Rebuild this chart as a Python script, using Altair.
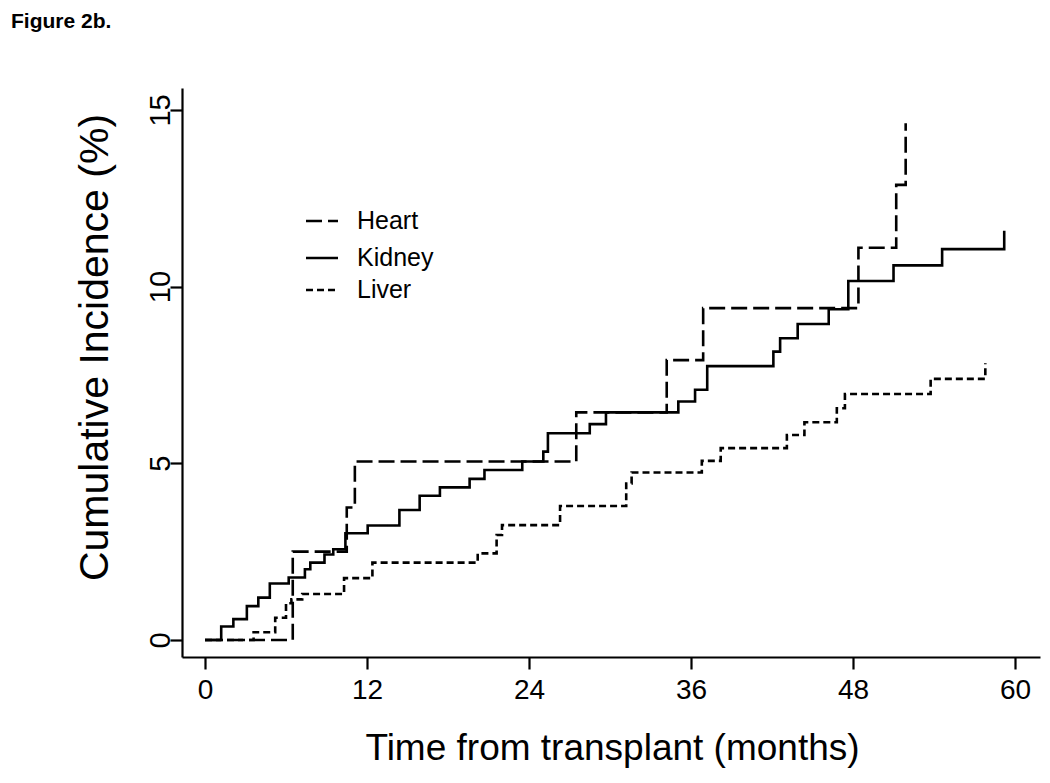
import altair as alt
import pandas as pd

# ---- data (months, cumulative incidence %) ----
heart_t = [0, 6.5, 10.5, 11.1, 27.5, 34.2, 36.9, 48.4, 51.2, 51.9]
heart_p = [0, 2.5, 3.75, 5.05, 6.44, 7.92, 9.39, 11.1, 12.88, 14.62]

kidney_t = [0, 1.2, 2.1, 3.1, 3.95, 4.8, 6.2, 7.4, 7.8, 8.85, 9.5, 10.4, 12.05,
            14.4, 15.9, 17.4, 19.6, 20.7, 23.5, 25.06, 25.4, 28.5, 29.7, 35.06,
            36.3, 37.2, 42.1, 42.6, 43.9, 46.2, 47.65, 51.0, 54.6, 59.2]
kidney_p = [0, 0.38, 0.59, 0.96, 1.2, 1.6, 1.77, 2.0, 2.19, 2.42, 2.57, 3.02, 3.24,
            3.68, 4.08, 4.32, 4.56, 4.81, 5.05, 5.33, 5.85, 6.11, 6.44, 6.75,
            7.08, 7.75, 8.16, 8.54, 8.94, 9.36, 10.16, 10.6, 11.06, 11.58]

liver_t = [0, 3.6, 5.2, 6.0, 6.4, 7.2, 10.3, 12.4, 20.2, 21.6, 22.0, 26.3, 31.2,
           31.6, 36.8, 38.2, 43.1, 44.4, 46.8, 47.4, 53.75, 57.8]
liver_p = [0, 0.22, 0.63, 1.04, 1.15, 1.3, 1.75, 2.19, 2.45, 2.97, 3.25, 3.79, 4.43,
           4.74, 5.07, 5.43, 5.8, 6.16, 6.56, 6.96, 7.39, 7.83]

groups = ["Heart", "Kidney", "Liver"]
x_ticks = [0, 12, 24, 36, 48, 60]
y_ticks = [0, 5, 10, 15]

frames = []
for name, t, p in [("Heart", heart_t, heart_p),
                   ("Kidney", kidney_t, kidney_p),
                   ("Liver", liver_t, liver_p)]:
    frames.append(pd.DataFrame({"organ": name, "month": t, "pct": p, "order": range(len(t))}))
df = pd.concat(frames, ignore_index=True)

FONT = "Liberation Sans"
W, H = 858, 569

dash_scale = alt.Scale(domain=groups, range=[[16, 6], [1, 0], [7, 4]])

x_enc = alt.X("month:Q",
              scale=alt.Scale(domain=[-1.704, 61.85], nice=False, zero=False),
              axis=alt.Axis(values=x_ticks, title="Time from transplant (months)",
                            titleX=430, titleY=91, titleBaseline="middle",
                            titleAlign="center", titleFontSize=37,
                            labelFontSize=28, labelPadding=7, labelBaseline="top"))
y_enc = alt.Y("pct:Q",
              scale=alt.Scale(domain=[-0.481, 15.62], nice=False, zero=False),
              axis=alt.Axis(values=y_ticks, title="Cumulative Incidence (%)",
                            titleX=-87, titleY=259, titleAngle=-90,
                            titleBaseline="middle", titleAlign="center",
                            titleFontSize=41, labelFontSize=29, labelAngle=-90,
                            labelAlign="center", labelBaseline="middle",
                            labelPadding=10))

lines = alt.Chart(df).mark_line(
    interpolate="step-after", color="black", strokeWidth=2.6, strokeCap="butt"
).encode(
    x=x_enc, y=y_enc,
    strokeDash=alt.StrokeDash("organ:N", scale=dash_scale, legend=None),
    detail="organ:N",
    order="order:Q",
)

# in-plot legend
leg = pd.DataFrame({"organ": groups, "ypix": [133, 170, 202]})
leg_lines = alt.Chart(leg).mark_rule(color="black", strokeWidth=2.6, strokeCap="butt").encode(
    x=alt.value(124), x2=alt.value(156),
    y=alt.Y("ypix:Q", scale=None),
    strokeDash=alt.StrokeDash("organ:N", scale=dash_scale, legend=None),
)
leg_text = alt.Chart(leg).mark_text(
    align="left", baseline="middle", fontSize=25, font=FONT, color="black"
).encode(
    x=alt.value(175), y=alt.Y("ypix:Q", scale=None), text="organ:N"
)

fig_title = alt.Chart(pd.DataFrame({"t": ["Figure 2b."]})).mark_text(
    align="left", baseline="top", fontSize=21, fontWeight="bold", font=FONT, color="black"
).encode(x=alt.value(-171), y=alt.value(-77), text="t:N")

chart = alt.layer(lines, leg_lines, leg_text, fig_title).properties(
    width=W, height=H,
    autosize=alt.AutoSizeParams(type="none"),
    padding={"left": 174, "top": 80, "right": 2, "bottom": 118},
    background="white",
).configure_view(stroke=None).configure_axis(
    grid=False, domainColor="black", domainWidth=2.2, tickColor="black",
    tickWidth=2.2, tickSize=12, labelColor="black", titleColor="black",
    labelFont=FONT, titleFont=FONT, titleFontWeight="normal",
)

chart.save("out.html", embed_options={"renderer": "svg", "actions": False})
